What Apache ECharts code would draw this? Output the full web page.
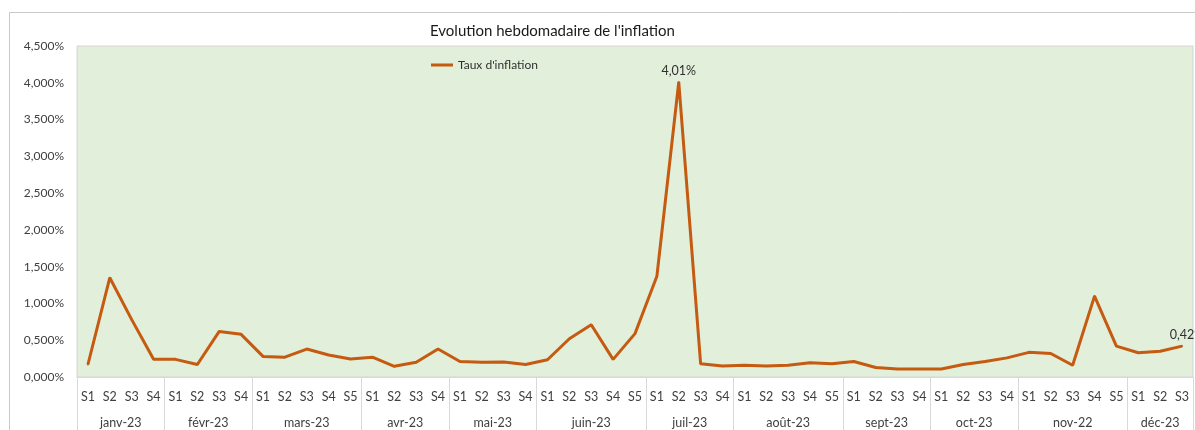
<!DOCTYPE html>
<html><head><meta charset="utf-8">
<script src="https://cdn.jsdelivr.net/npm/echarts@6/dist/echarts.min.js"></script>
<style>html,body{margin:0;padding:0;background:#fff}#c{width:1195px;height:430px}</style>
</head><body><div id="c"></div>
<script>
var months = ['janv-23','févr-23','mars-23','avr-23','mai-23','juin-23','juil-23','août-23','sept-23','oct-23','nov-22','déc-23'];
var weeksPerMonth = [4,4,5,4,4,5,4,5,4,4,5,3];
var rates = [
  0.17,1.35,0.78,0.24,
  0.24,0.17,0.62,0.58,
  0.28,0.27,0.38,0.30,0.245,
  0.27,0.145,0.20,0.38,
  0.21,0.20,0.205,0.17,
  0.235,0.52,0.71,0.24,0.59,
  1.37,4.01,0.18,0.15,
  0.16,0.15,0.16,0.195,0.18,
  0.21,0.13,0.11,0.11,
  0.11,0.17,0.21,0.26,
  0.335,0.32,0.16,1.10,0.42,
  0.33,0.35,0.42
];
var labelledIdx = [27, 50];
var yTicks = {min:0, max:4.5, interval:0.5};

var weeks = [], bounds = [0], centers = [], acc = 0;
weeksPerMonth.forEach(function(n){
  for (var i=1;i<=n;i++) weeks.push('S'+i);
  centers.push(acc + n/2);
  acc += n; bounds.push(acc);
});
var font = 'Lato, "Open Sans", sans-serif';
var data = rates.map(function(v,i){
  var d = {value:v};
  if (labelledIdx.indexOf(i) >= 0) d.label = {show:true, offset: i === rates.length-1 ? [5,0] : [0,0]};
  return d;
});
var chart = echarts.init(document.getElementById('c'));
chart.setOption({
  animation:false,
  textStyle:{fontFamily:font},
  graphic:[{type:'rect',shape:{x:9.5,y:12.5,width:1200,height:430},style:{fill:'none',stroke:'#c8c8c8',lineWidth:1},silent:true,z:-10}],
  title:{text:"Evolution hebdomadaire de l'inflation",left:425,top:19,
    textStyle:{fontFamily:font,fontSize:15,fontWeight:'normal',color:'#1a1a1a'}},
  legend:{show:true,left:426,top:54,icon:'rect',itemWidth:22,itemHeight:3,itemGap:4,
    itemStyle:{color:'#C55A11',opacity:1},
    textStyle:{fontFamily:font,fontSize:12,color:'#303030'},data:["Taux d'inflation"]},
  grid:{left:77,right:2,top:46,bottom:53,show:true,backgroundColor:'#E2EFDA',borderColor:'#d4d4d4',borderWidth:1},
  xAxis:[{
    type:'category',data:weeks,boundaryGap:true,
    axisLine:{show:true,lineStyle:{color:'#d9d9d9'}},axisTick:{show:false},
    axisLabel:{interval:0,margin:13,fontSize:12.5,color:'#404040',fontFamily:font},
    splitLine:{show:false}
  },{
    type:'value',min:0,max:weeks.length,position:'bottom',
    axisLine:{show:false},
    axisTick:{show:true,customValues:bounds,length:56,lineStyle:{color:'#d9d9d9'}},
    axisLabel:{show:true,customValues:centers,margin:39,fontSize:12.5,color:'#404040',fontFamily:font,
      formatter:function(v){var i=centers.indexOf(v);return i>=0?months[i]:'';}},
    splitLine:{show:false}
  }],
  yAxis:{type:'value',min:yTicks.min,max:yTicks.max,interval:yTicks.interval,
    axisLine:{show:false},axisTick:{show:false},splitLine:{show:false},
    axisLabel:{margin:13,fontSize:12,color:'#404040',fontFamily:font,
      formatter:function(v){return v.toFixed(3).replace('.',',')+'%';}}},
  series:[{
    name:"Taux d'inflation",type:'line',data:data,xAxisIndex:0,
    symbol:'circle',symbolSize:2,showSymbol:true,
    lineStyle:{color:'#C55A11',width:3},itemStyle:{color:'#C55A11'},
    label:{show:false,position:'top',distance:4,fontSize:12.5,color:'#303030',fontFamily:font,
      formatter:function(p){return p.value.toFixed(2).replace('.',',')+'%';}}
  }]
});
</script></body></html>
